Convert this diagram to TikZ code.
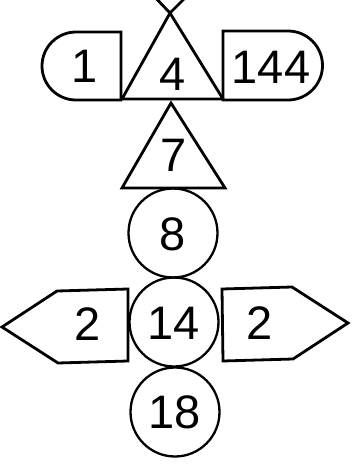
\documentclass[tikz,border=0pt]{standalone}
\usepackage{fontspec}
\setmainfont{Liberation Sans}
\begin{document}
\begin{tikzpicture}[x=1pt,y=-1pt,
  shp/.style={draw=black,line width=2.8pt,line join=miter},
  circ/.style={circle,draw=black,line width=2.3pt,minimum size=89pt,inner sep=0pt},
  lbl/.style={inner sep=0pt,font=\fontsize{47}{56}\selectfont}]
\useasboundingbox (0,0) rectangle (360,464);
\begin{scope}
\clip (0,0) rectangle (360,464);
% cross above top triangle
\draw[shp] (170,13) -- (150,-8);
\draw[shp] (170,13) -- (191,-8);
\end{scope}
% top triangle
\draw[shp] (122,99) -- (170,13) -- (223,99) -- cycle;
% left rounded box
\draw[shp] (121,32) -- (76,32) arc[start angle=-90,end angle=-270,radius=34] -- (121,100) -- cycle;
% right rounded box
\draw[shp] (223,31) -- (288,31) arc[start angle=-90,end angle=90,radius=34.5] -- (223,100) -- cycle;
% triangle 7
\draw[shp] (122,188) -- (171,103) -- (225,188) -- cycle;
% circles
\node[circ] (c8) at (173,233) {};
\node[circ] (c14) at (174,322) {};
\node[circ] (c18) at (175,412) {};
% left pentagon
\draw[shp] (128,289) -- (57,291) -- (2,327) -- (58,363) -- (128,361) -- cycle;
% right pentagon
\draw[shp] (222,289) -- (292,287) -- (348,323) -- (293,359) -- (223,361) -- cycle;
% labels
\node[lbl] (t1) at (85,66) {1};
\node[lbl] (t4) at (173,74) {4};
\node[lbl] (t144) at (271,67) {144};
\node[lbl] (t7) at (174,155) {7};
\node[lbl] (t8) at (173,234) {8};
\node[lbl] (t14) at (174,323) {14};
\node[lbl] (t18) at (175,412) {18};
\node[lbl] (tl2) at (88,324) {2};
\node[lbl] (tr2) at (260,323) {2};
\end{tikzpicture}
\end{document}
